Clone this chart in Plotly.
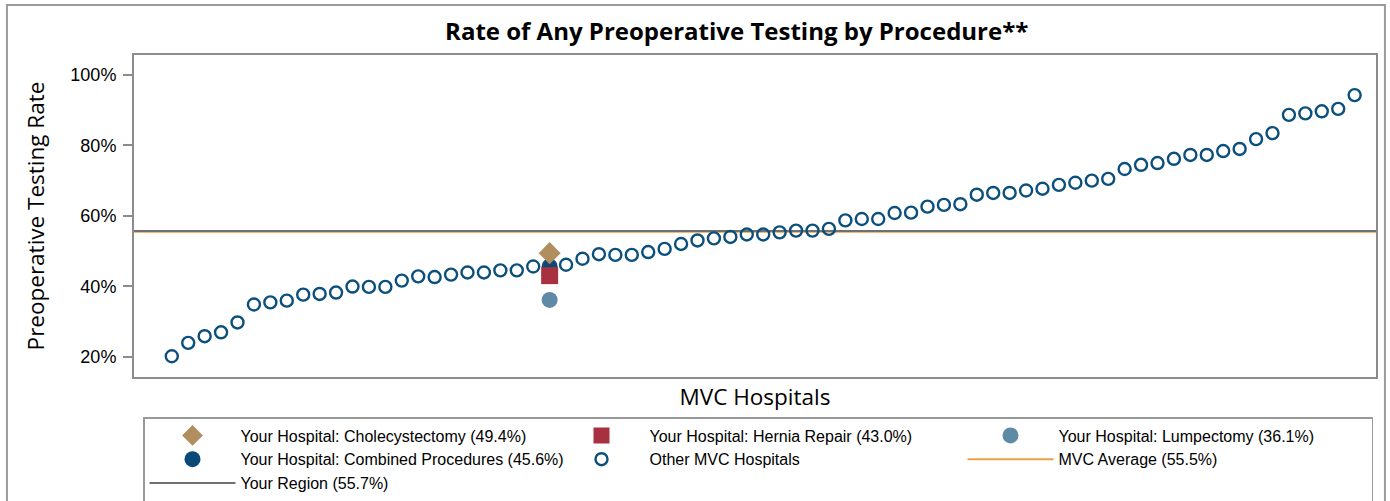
import plotly.graph_objects as go

# other MVC hospitals, sorted low to high (percent)
other_rates = [20.1, 23.9, 25.8, 26.9, 29.7, 34.8, 35.4, 35.9, 37.6, 37.8,
               38.2, 39.9, 39.8, 39.8, 41.6, 42.8, 42.6, 43.3, 43.9, 43.9,
               44.5, 44.5, 45.6,
               46.1, 47.8, 49.1, 48.9, 48.9, 49.7, 50.6, 52.0, 53.0, 53.6,
               54.0, 54.7, 54.7, 55.3, 55.8, 55.8, 56.3, 58.7, 59.1, 59.1,
               60.8, 60.9, 62.6, 63.1, 63.3, 66.0, 66.5, 66.5, 67.2, 67.7,
               68.8, 69.4, 70.0, 70.5, 73.3, 74.5, 75.0, 76.2, 77.3, 77.3,
               78.4, 79.0, 81.8, 83.5, 88.7, 89.1, 89.7, 90.4, 94.3]
your_rank = 24  # position of your hospital among all MVC hospitals

chole = 49.4
hernia = 43.0
lumpectomy = 36.1
combined = 45.6
mvc_avg = 55.5
region = 55.7

y_ticks = [20, 40, 60, 80, 100]
y_labels = ["%d%%" % v for v in y_ticks]

n_total = len(other_rates) + 1
other_x = [i for i in range(1, n_total + 1) if i != your_rank]

col_other = "#0b4f7c"
col_comb = "#0b4a78"
col_chole = "#b08e5f"
col_hernia = "#a8313f"
col_lump = "#5f8aa6"
col_avg = "#eba046"
col_region = "#707070"
frame = "#8c8c8c"

fig = go.Figure()

# legend-only entries for the reference lines
fig.add_trace(go.Scatter(x=[None], y=[None], mode="lines", name="MVC Average (%.1f%%)" % mvc_avg,
                         line=dict(color=col_avg, width=2), legendrank=6))
fig.add_trace(go.Scatter(x=[None], y=[None], mode="lines", name="Your Region (%.1f%%)" % region,
                         line=dict(color=col_region, width=2), legendrank=7))

fig.add_trace(go.Scatter(x=other_x, y=other_rates, mode="markers", name="Other MVC Hospitals",
                         marker=dict(symbol="circle-open", size=12, color=col_other,
                                     line=dict(width=2.4, color=col_other)),
                         legendrank=5))
fig.add_trace(go.Scatter(x=[your_rank], y=[combined], mode="markers",
                         name="Your Hospital: Combined Procedures (%.1f%%)" % combined,
                         marker=dict(symbol="circle", size=16, color=col_comb), legendrank=4))
fig.add_trace(go.Scatter(x=[your_rank], y=[lumpectomy], mode="markers",
                         name="Your Hospital: Lumpectomy (%.1f%%)" % lumpectomy,
                         marker=dict(symbol="circle", size=16, color=col_lump), legendrank=3))
fig.add_trace(go.Scatter(x=[your_rank], y=[hernia], mode="markers",
                         name="Your Hospital: Hernia Repair (%.1f%%)" % hernia,
                         marker=dict(symbol="square", size=17, color=col_hernia), legendrank=2))
fig.add_trace(go.Scatter(x=[your_rank], y=[chole], mode="markers",
                         name="Your Hospital: Cholecystectomy (%.1f%%)" % chole,
                         marker=dict(symbol="diamond", size=17, color=col_chole), legendrank=1))

fig.add_hline(y=mvc_avg, line=dict(color=col_avg, width=2), layer="below")
fig.add_hline(y=region, line=dict(color=col_region, width=2), layer="below")

# outer frame around the whole graphic
fig.add_shape(type="rect", xref="paper", yref="paper", x0=-0.1023, x1=1.0072, y0=-0.45, y1=1.155,
              line=dict(color="#9a9a9a", width=2), fillcolor="rgba(0,0,0,0)", layer="above")

fig.update_layout(
    width=1390, height=501,
    margin=dict(l=134, r=14, t=55, b=124, autoexpand=False),
    paper_bgcolor="white", plot_bgcolor="white",
    font=dict(family="Liberation Sans, Arial, sans-serif", size=17, color="#000"),
    title=dict(text="<b>Rate of Any Preoperative Testing by Procedure**</b>",
               font=dict(family="Open Sans, sans-serif", size=24, color="#000"),
               x=0.53, xanchor="center", y=1 - 32 / 501, yanchor="middle"),
    showlegend=True,
    legend=dict(orientation="h", xref="container", yref="container",
                x=143 / 1390, xanchor="left", y=1 - 417 / 501, yanchor="top",
                bordercolor="#999", borderwidth=1.5, itemwidth=86, entrywidth=308,
                font=dict(family="Liberation Sans, Arial, sans-serif", size=16),
                traceorder="normal"),
)
fig.update_xaxes(range=[-1.3, 74.3], showticklabels=False, ticks="", showgrid=False, zeroline=False,
                 showline=True, linecolor=frame, linewidth=2, mirror=True, automargin=False,
                 title=dict(text="MVC Hospitals", standoff=11,
                            font=dict(family="Open Sans, sans-serif", size=22.5)))
fig.update_yaxes(range=[14.2, 105.7], tickmode="array", tickvals=y_ticks, ticktext=y_labels,
                 ticks="outside", ticklen=9, tickcolor=frame, tickwidth=1.5, ticklabelstandoff=3,
                 showgrid=False, zeroline=False, automargin=False,
                 showline=True, linecolor=frame, linewidth=2, mirror=True,
                 tickfont=dict(family="Liberation Sans, Arial, sans-serif", size=18),
                 title=dict(text="Preoperative Testing Rate", standoff=19,
                            font=dict(family="Open Sans, sans-serif", size=22.5)))

fig.write_html("out.html", config={"displayModeBar": False},
               post_script="document.body.style.margin='0';")
